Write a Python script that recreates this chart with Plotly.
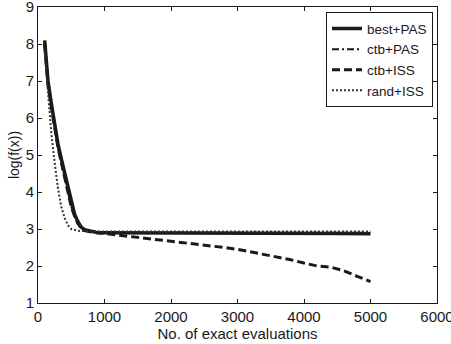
import plotly.graph_objects as go

# ---- data ----
x_best_pas = [100, 150, 200, 250, 300, 350, 400, 450, 500, 550, 600, 650, 700, 800, 900, 1000,
              1500, 2000, 2500, 3000, 3500, 4000, 4500, 5000]
y_best_pas = [8.1, 7.0, 6.4, 5.8, 5.3, 4.9, 4.5, 4.1, 3.7, 3.4, 3.2, 3.05, 2.98, 2.93, 2.9, 2.9,
              2.9, 2.89, 2.89, 2.89, 2.88, 2.88, 2.88, 2.87]

x_ctb_pas = [100, 150, 200, 250, 300, 350, 400, 450, 500, 550, 600, 650, 700, 800, 900, 1000,
             1500, 2000, 2500, 3000, 3500, 4000, 4500, 5000]
y_ctb_pas = [8.0, 6.9, 6.3, 5.7, 5.2, 4.8, 4.4, 4.0, 3.6, 3.35, 3.15, 3.02, 2.96, 2.92, 2.9, 2.9,
             2.9, 2.9, 2.9, 2.9, 2.9, 2.9, 2.9, 2.9]

x_ctb_iss = [100, 150, 200, 250, 300, 350, 400, 450, 500, 550, 600, 650, 700, 800, 900, 1000,
             1200, 1400, 1600, 1800, 2000, 2200, 2400, 2600, 2800, 3000, 3200, 3400, 3600,
             3800, 4000, 4200, 4400, 4600, 4800, 5000]
y_ctb_iss = [8.0, 6.9, 6.3, 5.7, 5.2, 4.8, 4.4, 4.0, 3.6, 3.35, 3.15, 3.02, 2.96, 2.92, 2.9, 2.87,
             2.83, 2.8, 2.76, 2.7, 2.67, 2.64, 2.6, 2.56, 2.5, 2.45, 2.38, 2.3, 2.25,
             2.17, 2.08, 2.0, 1.97, 1.87, 1.72, 1.58]

x_rand_iss = [100, 150, 200, 250, 300, 350, 400, 450, 500, 600, 700, 1000,
              1500, 2000, 2500, 3000, 3500, 4000, 4500, 5000]
y_rand_iss = [7.8, 6.7, 5.6, 4.8, 4.1, 3.6, 3.3, 3.1, 3.0, 2.95, 2.94, 2.93,
              2.93, 2.93, 2.93, 2.93, 2.93, 2.93, 2.93, 2.93]

x_ticks = [0, 1000, 2000, 3000, 4000, 5000, 6000]
y_ticks = [1, 2, 3, 4, 5, 6, 7, 8, 9]

FONT = "Liberation Sans, Arial, sans-serif"
INK = "#1a1a1a"

fig = go.Figure()
fig.add_trace(go.Scatter(x=x_best_pas, y=y_best_pas, mode="lines", name="best+PAS",
                         line=dict(color=INK, width=3.5, dash="solid")))
fig.add_trace(go.Scatter(x=x_ctb_pas, y=y_ctb_pas, mode="lines", name="ctb+PAS",
                         line=dict(color=INK, width=2, dash="7px,3px,2px,3px")))
fig.add_trace(go.Scatter(x=x_ctb_iss, y=y_ctb_iss, mode="lines", name="ctb+ISS",
                         line=dict(color=INK, width=3, dash="8px,4px")))
fig.add_trace(go.Scatter(x=x_rand_iss, y=y_rand_iss, mode="lines", name="rand+ISS",
                         line=dict(color="#333333", width=2, dash="2px,2px")))

axis_common = dict(showline=True, linecolor=INK, linewidth=1, mirror="allticks",
                   ticks="inside", ticklen=4, tickcolor=INK, showgrid=False,
                   zeroline=False, ticklabeloverflow="allow", automargin=False,
                   tickfont=dict(family=FONT, size=15, color=INK))

fig.update_xaxes(range=[0, 6000], tickvals=x_ticks,
                 title=dict(text="No. of exact evaluations", standoff=0,
                            font=dict(family=FONT, size=15, color=INK)),
                 **axis_common)
fig.update_yaxes(range=[0.9999, 9.0001], tickvals=y_ticks,
                 title=dict(text="log(f(x))", standoff=2,
                            font=dict(family=FONT, size=14, color=INK)),
                 **axis_common)

fig.update_layout(
    width=451, height=344,
    margin=dict(l=38, r=14, t=7, b=41),
    paper_bgcolor="white", plot_bgcolor="white",
    font=dict(family=FONT, size=15, color=INK),
    legend=dict(x=0.99, y=0.982, xanchor="right", yanchor="top",
                bgcolor="white", bordercolor=INK, borderwidth=1,
                font=dict(family=FONT, size=13.5), tracegroupgap=0,
                itemwidth=30),
    showlegend=True,
)

fig.write_html("out.html")
